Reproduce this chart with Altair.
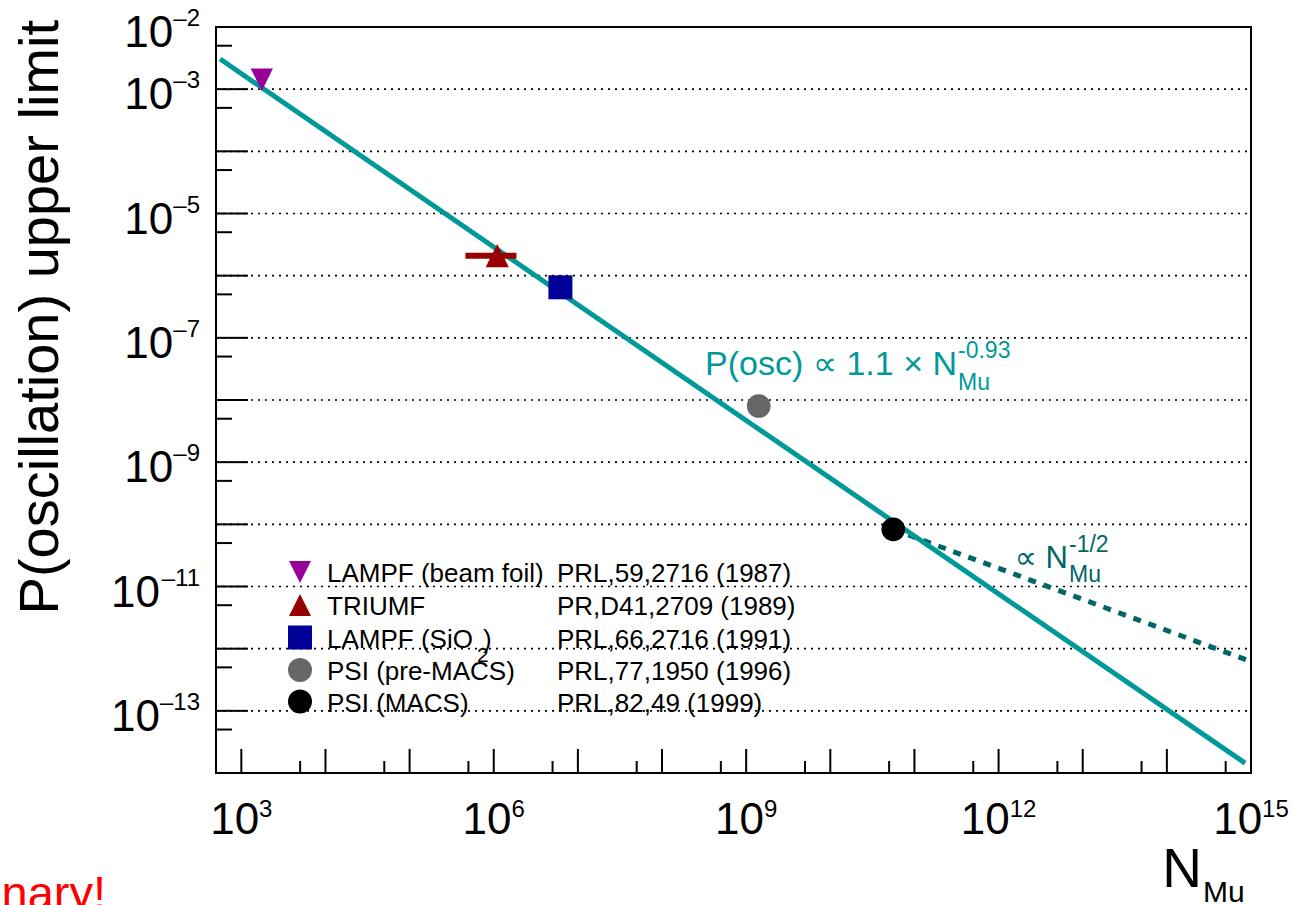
import altair as alt
import pandas as pd

# ---------------- data ----------------
experiments = ["LAMPF (beam foil)", "TRIUMF", "LAMPF (SiO", "PSI (pre-MACS)", "PSI (MACS)"]
references = ["PRL,59,2716 (1987)", "PR,D41,2709 (1989)", "PRL,66,2716 (1991)",
              "PRL,77,1950 (1996)", "PRL,82,49 (1999)"]
n_mu = [1.75e3, 1.1e6, 6.2e6, 1.41e9, 5.6e10]
p_limit = [1.42e-3, 2.1e-6, 6.5e-7, 8.0e-9, 8.3e-11]
triumf_n_lo = [4.6e5]
triumf_n_hi = [1.86e6]
fit_n = [5.6e2, 8.5e14]          # P(osc) ~ 1.1 x N^-0.93
fit_p = [3.05e-3, 1.44e-14]
sqrt_n = [5.6e10, 1.0e15]        # ~ N^-1/2 extrapolation
sqrt_p = [8.3e-11, 6.2e-13]

x_label_exp = [3, 6, 9, 12, 15]
y_label_exp = [-2, -3, -5, -7, -9, -11, -13]
x_major = [10.0 ** k for k in range(3, 16)]
x_minor = [5 * 10.0 ** k for k in range(2, 15)]
y_major = [10.0 ** k for k in range(-14, -1)]
y_minor = [5 * 10.0 ** k for k in range(-14, -2)]
y_grid = [10.0 ** k for k in range(-13, -2)]

# ---------------- style ----------------
FONT = "Liberation Sans, Arial, DejaVu Sans"
W, H = 1035, 746
colors = ["#990099", "#990000", "#000099", "#666666", "#000000"]
TRI_DOWN = "M-1,-1L1,-1L0,1Z"
TRI_UP = "M0,-1L1,1L-1,1Z"
shapes = [TRI_DOWN, TRI_UP, "square", "circle", "circle"]
sizes = [500, 540, 576, 560, 560]
FIT_COLOR = "#009999"
SQRT_COLOR = "#006666"
BASE = 44
SUP = 24

xs = alt.Scale(type="log", domain=[500, 1e15], nice=False)
ys = alt.Scale(type="log", domain=[1e-14, 1e-2], nice=False)


def X(f):
    return alt.X(f, type="quantitative", scale=xs, axis=None)


def Y(f):
    return alt.Y(f, type="quantitative", scale=ys, axis=None)


def txt(s, x, y, size, color="black", align="left", angle=0):
    return alt.Chart(pd.DataFrame({"t": [s]})).mark_text(
        text=s, align=align, baseline="alphabetic", fontSize=size, font=FONT,
        color=color, angle=angle
    ).encode(x=alt.value(x), y=alt.value(y))


layers = []

# grid (dotted, horizontal only)
layers.append(alt.Chart(pd.DataFrame({"g": y_grid})).mark_rule(
    strokeDash=[2, 5], strokeWidth=1.6, color="black"
).encode(y=Y("g"), x=alt.value(0), x2=alt.value(W)))

# inward ticks
layers.append(alt.Chart(pd.DataFrame({"v": y_major})).mark_rule(strokeWidth=2, color="black")
              .encode(y=Y("v"), x=alt.value(0), x2=alt.value(32)))
layers.append(alt.Chart(pd.DataFrame({"v": y_minor})).mark_rule(strokeWidth=2, color="black")
              .encode(y=Y("v"), x=alt.value(0), x2=alt.value(16)))
layers.append(alt.Chart(pd.DataFrame({"v": x_major})).mark_rule(strokeWidth=2, color="black")
              .encode(x=X("v"), y=alt.value(H), y2=alt.value(H - 24)))
layers.append(alt.Chart(pd.DataFrame({"v": x_minor})).mark_rule(strokeWidth=2, color="black")
              .encode(x=X("v"), y=alt.value(H), y2=alt.value(H - 12)))

# lines
layers.append(alt.Chart(pd.DataFrame({"n": sqrt_n, "p": sqrt_p})).mark_line(
    color=SQRT_COLOR, strokeWidth=5, strokeDash=[8, 8], strokeCap="butt"
).encode(x=X("n"), y=Y("p")))
layers.append(alt.Chart(pd.DataFrame({"n": fit_n, "p": fit_p})).mark_line(
    color=FIT_COLOR, strokeWidth=5, strokeCap="butt"
).encode(x=X("n"), y=Y("p")))

# TRIUMF horizontal error bar
layers.append(alt.Chart(pd.DataFrame({"lo": triumf_n_lo, "hi": triumf_n_hi, "p": [p_limit[1]]}))
              .mark_rule(color=colors[1], strokeWidth=6)
              .encode(x=X("lo"), x2="hi:Q", y=Y("p")))

# data points
for i in range(len(n_mu)):
    layers.append(alt.Chart(pd.DataFrame({"n": [n_mu[i]], "p": [p_limit[i]]})).mark_point(
        shape=shapes[i], filled=True, size=sizes[i], color=colors[i], opacity=1, strokeWidth=0
    ).encode(x=X("n"), y=Y("p")))

# legend
row_y = [545, 578, 610.5, 643, 674.5]
for i in range(len(experiments)):
    layers.append(alt.Chart(pd.DataFrame({"t": [0]})).mark_point(
        shape=shapes[i], filled=True, size=[484, 484, 576, 576, 576][i], color=colors[i],
        opacity=1, strokeWidth=0
    ).encode(x=alt.value(84), y=alt.value(row_y[i])))
    layers.append(txt(experiments[i], 111, row_y[i] + 10, 26))
    layers.append(txt(references[i], 341, row_y[i] + 10, 26))
layers.append(txt(")", 267, row_y[2] + 10, 26))
layers.append(txt("2", 261, row_y[2] + 24, 21))

# y tick labels
for e in y_label_exp:
    sup = "\u2013" + str(-e)
    wsup = 0.556 * SUP * len(sup)
    d = pd.DataFrame({"v": [10.0 ** e]})
    layers.append(alt.Chart(d).mark_text(text="10", align="right", baseline="alphabetic", dy=20,
                                         fontSize=BASE, font=FONT, color="black")
                  .encode(y=Y("v"), x=alt.value(-16 - wsup)))
    layers.append(alt.Chart(d).mark_text(text=sup, align="right", baseline="alphabetic", dy=-1,
                                         fontSize=SUP, font=FONT, color="black")
                  .encode(y=Y("v"), x=alt.value(-16)))

# x tick labels
w10 = 0.556 * BASE * 2
for e in x_label_exp:
    sup = str(e)
    wsup = 0.556 * SUP * len(sup)
    dx = (w10 - wsup) / 2
    d = pd.DataFrame({"v": [10.0 ** e]})
    layers.append(alt.Chart(d).mark_text(text="10", align="right", baseline="alphabetic", dx=dx,
                                         fontSize=BASE, font=FONT, color="black")
                  .encode(x=X("v"), y=alt.value(807)))
    layers.append(alt.Chart(d).mark_text(text=sup, align="left", baseline="alphabetic", dx=dx,
                                         fontSize=SUP, font=FONT, color="black")
                  .encode(x=X("v"), y=alt.value(790)))

# axis titles
layers.append(txt("P(oscillation) upper limit", -158, -7, 56, align="right", angle=270))
layers.append(txt("N", 986, 860, 55, align="right"))
layers.append(txt("Mu", 987, 875, 30))

# annotations
layers.append(txt("P(osc) \u221d 1.1 \u00d7 N", 741, 348, 34, color=FIT_COLOR, align="right"))
layers.append(txt("-0.93", 742, 331, 23, color=FIT_COLOR))
layers.append(txt("Mu", 742, 363, 23, color=FIT_COLOR))
layers.append(txt("\u221d N", 852, 541, 31, color=SQRT_COLOR, align="right"))
layers.append(txt("-1/2", 853, 525, 23, color=SQRT_COLOR))
layers.append(txt("Mu", 853, 555, 23, color=SQRT_COLOR))

# red stamp (cut by the page edge, as in the reference)
layers.append(txt("Preliminary!", -110, 882, 47, color="#ff0000", align="right"))

chart = alt.layer(*layers).properties(
    width=W, height=H,
    padding={"left": 216, "top": 27, "right": 42, "bottom": 132},
    autosize=alt.AutoSizeParams(type="none"),
    background="white",
).configure_view(stroke="black", strokeWidth=2)

chart.save("out.html", embed_options={"renderer": "svg", "actions": False})
